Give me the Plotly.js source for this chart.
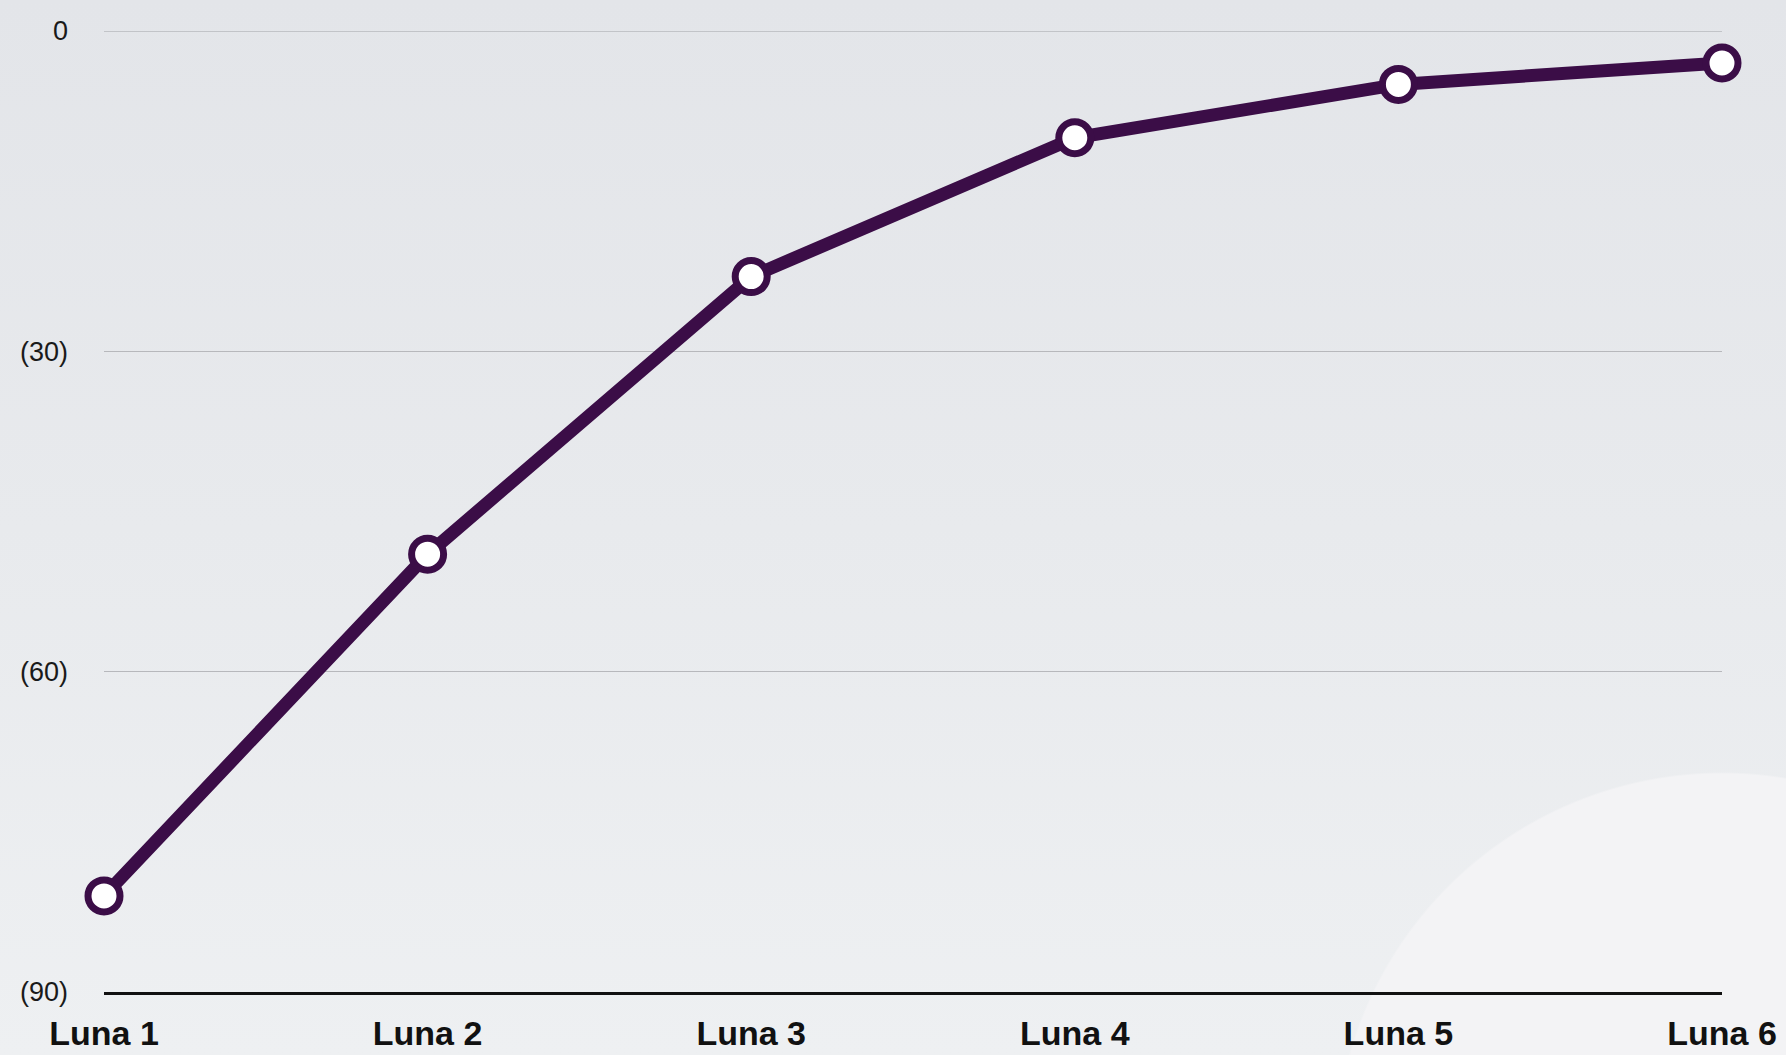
<!DOCTYPE html>
<html>
<head>
<meta charset="utf-8">
<script src="https://cdn.plot.ly/plotly-3.0.1.min.js"></script>
<style>
  html, body { margin: 0; padding: 0; }
  body {
    width: 1786px; height: 1055px; overflow: hidden;
    background:
      radial-gradient(circle 388px at 1722px 1160px, #f3f3f5 99.5%, rgba(243,243,245,0) 100%),
      linear-gradient(180deg, #e3e5e9 0%, #e8eaed 50%, #eef0f2 100%);
  }
  #chart { width: 1786px; height: 1055px; }
</style>
</head>
<body>
<div id="chart"></div>
<script>
const categories = ["Luna 1", "Luna 2", "Luna 3", "Luna 4", "Luna 5", "Luna 6"];
const values = [-81, -49, -23, -10, -5, -3];
const yTickVals = [0, -30, -60, -90];
const yTickText = ["0", "(30)", "(60)", "(90)"];

const trace = {
  type: "scatter",
  mode: "lines+markers",
  x: categories,
  y: values,
  cliponaxis: false,
  line: { color: "#3b0d47", width: 13 },
  marker: { symbol: "circle", size: 32, color: "#ffffff", line: { color: "#3b0d47", width: 7 } },
  hoverinfo: "skip"
};

const layout = {
  width: 1786,
  height: 1055,
  margin: { l: 104, r: 64, t: 31, b: 63 },
  paper_bgcolor: "rgba(0,0,0,0)",
  plot_bgcolor: "rgba(0,0,0,0)",
  showlegend: false,
  font: { family: "Liberation Sans, Arial, sans-serif", color: "#111" },
  shapes: [{
    type: "line", layer: "below",
    xref: "paper", x0: 0, x1: 1,
    yref: "y", y0: yTickVals[0], y1: yTickVals[0],
    line: { color: "#b7b8bc", width: 1.5 }
  }],
  xaxis: {
    type: "category",
    range: [0, 5],
    showgrid: false,
    zeroline: false,
    showline: true,
    linecolor: "#111111",
    linewidth: 2.5,
    ticks: "",
    ticklabelstandoff: 10,
    tickfont: { size: 34, color: "#111111", family: "Liberation Sans, Arial, sans-serif", weight: "bold" },
    fixedrange: true
  },
  yaxis: {
    range: [-90, 0],
    tickvals: yTickVals,
    ticktext: yTickText,
    showgrid: true,
    gridcolor: "#b7b8bc",
    gridwidth: 1.5,
    zeroline: false,
    showline: false,
    ticks: "",
    ticklabelstandoff: 35,
    tickfont: { size: 27, color: "#1a1a1a", family: "Liberation Sans, Arial, sans-serif" },
    fixedrange: true
  }
};

Plotly.newPlot("chart", [trace], layout, { displayModeBar: false, staticPlot: true });
</script>
</body>
</html>
